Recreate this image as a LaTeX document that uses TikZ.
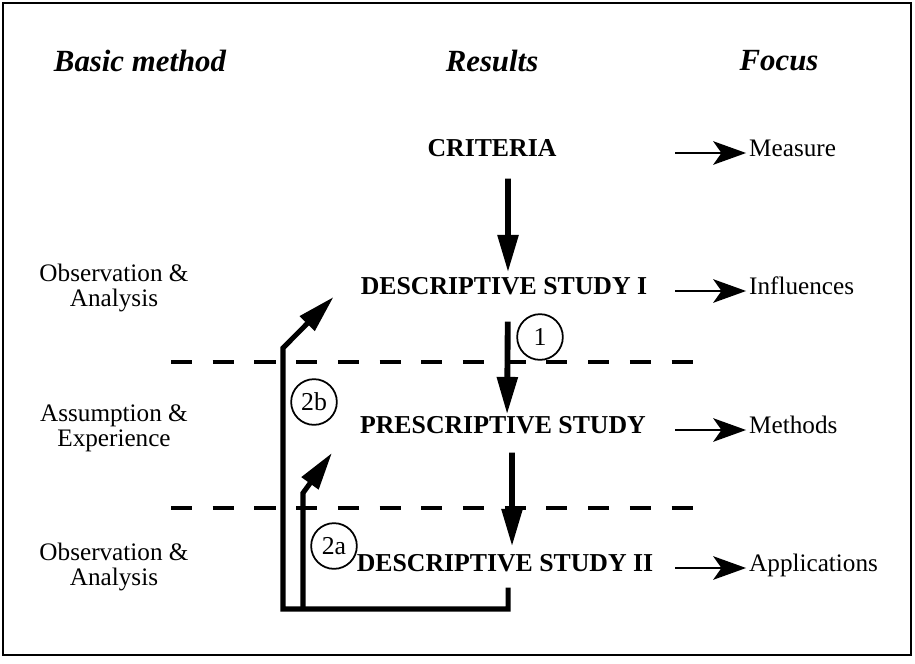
\documentclass[tikz,border=0pt]{standalone}
\usepackage{fontspec}
\setmainfont{Liberation Serif}
\usetikzlibrary{arrows.meta}

\tikzset{
  head/.style={font=\bfseries\itshape\fontsize{26.3}{28}\selectfont, inner sep=0pt},
  res/.style={font=\bfseries\fontsize{22}{24}\selectfont, inner sep=0pt, text height=0.66em, text depth=0pt},
  foc/.style={font=\fontsize{21.5}{23}\selectfont, inner sep=0pt, anchor=west, text height=0.66em, text depth=0pt},
  meth/.style={font=\fontsize{21.5}{21.3}\selectfont, inner sep=0pt, align=center},
  num/.style={draw, circle, line width=1.5pt, minimum size=39pt, inner sep=0pt, font=\fontsize{22}{24}\selectfont},
  down/.style={line width=5pt, -{Triangle[length=32pt,width=17pt]}},
  back/.style={line width=4.3pt, -{Triangle[length=32pt,width=17pt]}},
  fo/.style={line width=2.5pt, -{Stealth[length=28pt,width=20pt,inset=7pt]}},
  sep/.style={line width=2.6pt, dash pattern=on 18pt off 17.6pt},
}

\begin{document}
\begin{tikzpicture}[x=0.03cm,y=-0.03cm]
\useasboundingbox (0,0) rectangle (915,663);
% khung ngoai
\draw[line width=1.7pt] (3,3) rectangle (911,655);
% tieu de cot
\node[head] (hbas) at (140,61) {Basic method};
\node[head] (hres) at (492,61) {Results};
\node[head] (hfoc) at (779,61) {Focus};
% cot ket qua
\node[res] (crit) at (492,153) {CRITERIA};
\node[res] (ds1) at (504,291) {DESCRIPTIVE STUDY I};
\node[res] (ps) at (503,430) {PRESCRIPTIVE STUDY};
\node[res] (ds2) at (505,568) {DESCRIPTIVE STUDY II};
% cot focus
\coordinate (fa) at (675,0);
\node[foc] (meas) at (749,153) {Measure};
\node[foc] (infl) at (749,291) {Influences};
\node[foc] (meth) at (749,430) {Methods};
\node[foc] (appl) at (749,568) {Applications};
\foreach \r/\f in {crit/meas,ds1/infl,ps/meth,ds2/appl}
  \draw[fo, shorten >=2.5pt] (\r -| fa) -- (\f);
% cot phuong phap
\node[meth] (obs1) at (114,288) {Observation \&\\Analysis};
\node[meth] (ass) at (114,428) {Assumption \&\\Experience};
\node[meth] (obs2) at (114,567) {Observation \&\\Analysis};
% duong ke dut
\draw[sep] (171,362) -- (694,362);
\draw[sep] (171,508) -- (694,508);
% mui ten chinh
\draw[down, shorten <=18.3pt, shorten >=12.4pt] ([xshift=13.7pt]crit.south) -- ([xshift=3.4pt]ds1.north);
\draw[down, shorten <=22.6pt, shorten >=9.8pt] ([xshift=3.4pt]ds1.south) -- ([xshift=3.4pt]ps.north);
\draw[down, shorten <=15.8pt, shorten >=14.9pt] ([xshift=7.7pt]ps.south) -- ([xshift=6pt]ds2.north);
% so trong vong tron
\node[num] (n1) at (540,337) {1};
\node[num] (n2b) at (314,402) {2b};
\node[num] (n2a) at (334,546) {2a};
% duong quay lai
\coordinate (bl) at (283,609);
\coordinate (kb) at (283,348);
\coordinate (ja) at (303,609);
\coordinate (ka) at (303,493);
\draw[back, shorten <=13.2pt] ([xshift=2.6pt]ds2.south) |- (bl) -- (kb) -- ([shift={(-27,6)}]ds1.west);
\draw[back] (ja) -- (ka) -- ([shift={(-28,23)}]ps.west);
\end{tikzpicture}
\end{document}
